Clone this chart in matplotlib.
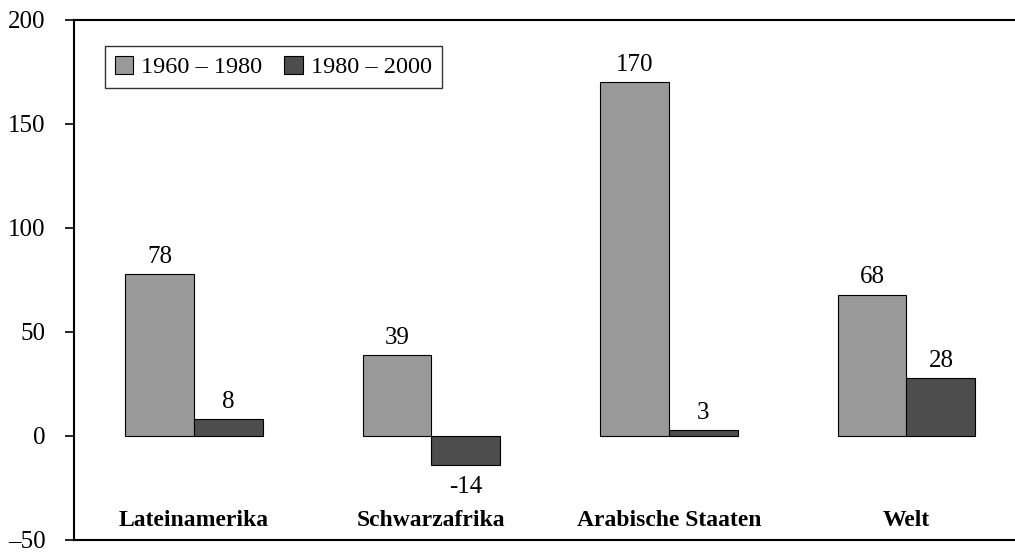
import numpy as np
import matplotlib.pyplot as plt

regionen = ["Lateinamerika", "Schwarzafrika", "Arabische Staaten", "Welt"]
werte_1960_1980 = [78, 39, 170, 68]
werte_1980_2000 = [8, -14, 3, 28]
serien = ["1960 – 1980", "1980 – 2000"]
yticks = [-50, 0, 50, 100, 150, 200]

plt.rcParams['font.family'] = ['Liberation Serif', 'DejaVu Serif']

fig = plt.figure(figsize=(10.15, 5.52), dpi=100)
ax = fig.add_axes([74/1015, 12/552, 1 - 74/1015, 520/552])

x = np.arange(len(regionen))
w = 0.29
b1 = ax.bar(x - w/2, werte_1960_1980, w, color='#999999', edgecolor='black',
            linewidth=0.8, label=serien[0])
b2 = ax.bar(x + w/2, werte_1980_2000, w, color='#4d4d4d', edgecolor='black',
            linewidth=0.8, label=serien[1])

for bars, vals in ((b1, werte_1960_1980), (b2, werte_1980_2000)):
    for r, v in zip(bars, vals):
        if v >= 0:
            ax.text(r.get_x() + r.get_width()/2, v + 3, str(v), ha='center',
                    va='bottom', fontsize=18)
        else:
            ax.text(r.get_x() + r.get_width()/2, v - 5, str(v), ha='center',
                    va='top', fontsize=18)

for xi, name in zip(x, regionen):
    ax.text(xi, -40.5, name, ha='center', va='center', fontsize=17,
            fontweight='bold')

ax.set_ylim(-50, 200)
ax.set_xlim(-0.505, 3.457)
ax.set_yticks(yticks)
ax.set_yticklabels([str(t).replace('-', '–') for t in yticks])
ax.set_xticks([])
ax.tick_params(axis='y', direction='out', length=6.5, width=1.2, labelsize=18, pad=14)
ax.spines['right'].set_visible(False)
for s in ('left', 'top', 'bottom'):
    ax.spines[s].set_linewidth(1.5)

leg = ax.legend(loc='upper left', bbox_to_anchor=(31/941, 1 - 26/520), ncol=2,
                fontsize=17.5, frameon=True, fancybox=False, edgecolor='black',
                handlelength=0.75, handleheight=0.75, handletextpad=0.35,
                columnspacing=0.9, borderpad=0.4, borderaxespad=0)
leg.get_frame().set_linewidth(1.0)

fig.savefig('out.png', dpi=100)
